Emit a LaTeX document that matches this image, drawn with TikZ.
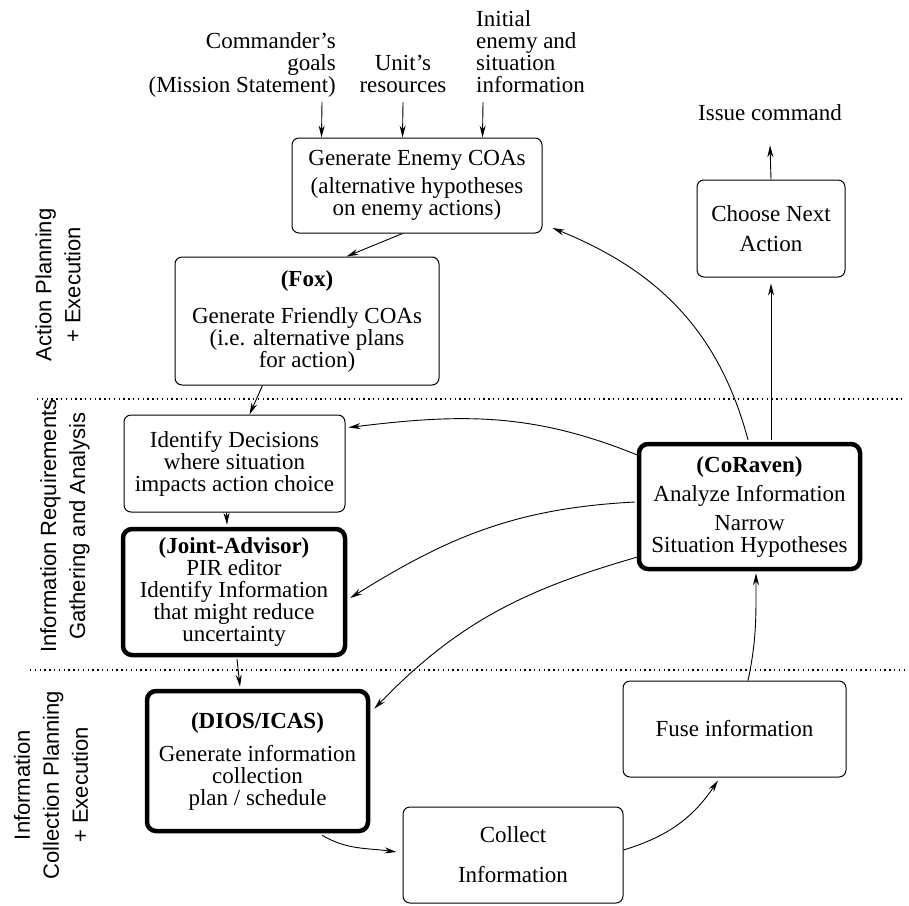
\documentclass[tikz,border=0pt]{standalone}
\usepackage{fontspec}
\setmainfont{Liberation Serif}
\newfontfamily\sidefont{Liberation Sans}
\usetikzlibrary{arrows.meta}
\begin{document}
\begin{tikzpicture}[x=1pt,y=-1pt,
  box/.style={draw, line width=1pt, rounded corners=7pt, align=center, inner sep=0pt, font=\fontsize{23}{22}\selectfont},
  tool/.style={box, line width=4.5pt, rounded corners=9pt},
  lbl/.style={inner sep=0pt, font=\fontsize{23}{22}\selectfont},
  side/.style={rotate=90, align=center, inner sep=0pt, font=\sidefont\fontsize{22}{29}\selectfont},
  arr/.style={-{Stealth[length=12pt,width=6pt]}, line width=0.9pt},
  sep/.style={line width=1.3pt, dash pattern=on 1.3pt off 3.5pt}]
\useasboundingbox (0,0) rectangle (909,905);
% inputs
\node[lbl, align=right, anchor=south east] (goals) at (336,98) {Commander's\\goals\\(Mission Statement)};
\node[lbl, align=center, anchor=south] (units) at (403,93) {Unit's\\resources};
\node[lbl, align=left, anchor=south west] (initial) at (476,93) {Initial\\enemy and\\situation\\information};
\node[lbl] (issue) at (770,113) {Issue command};
% boxes
\node[box, minimum width=250pt, minimum height=95pt] (enemy) at (417,185.5) {Generate Enemy COAs\\[6pt](alternative hypotheses\\on enemy actions)};
\node[box, minimum width=264pt, minimum height=128pt] (fox) at (307,321) {\textbf{(Fox)}\\[15pt]Generate Friendly COAs\\(i.e. alternative plans\\for action)};
\node[box, minimum width=148pt, minimum height=97pt] (choose) at (771,228.5) {Choose Next\\[8pt]Action};
\node[box, minimum width=221pt, minimum height=97pt] (decide) at (234.5,463.5) {Identify Decisions\\where situation\\impacts action choice};
\node[tool, minimum width=222pt, minimum height=126pt] (joint) at (234,592) {\textbf{(Joint-Advisor)}\\PIR editor\\Identify Information\\that might reduce\\uncertainty};
\node[tool, minimum width=221pt, minimum height=125pt] (coraven) at (749.5,506.5) {\textbf{(CoRaven)}\\[7pt]Analyze Information\\[7pt]Narrow\\Situation Hypotheses};
\node[tool, minimum width=221pt, minimum height=140pt] (dios) at (257.5,761) {\textbf{(DIOS/ICAS)}\\[11pt]Generate information\\collection\\plan / schedule};
\node[box, minimum width=220pt, minimum height=96pt] (collect) at (513,855) {Collect\\[18pt]Information};
\node[box, minimum width=223pt, minimum height=96pt] (fuse) at (734.5,729) {Fuse information};
% phases
\node[side] (actlbl) at (58,285) {Action Planning\\+ Execution};
\node[side] (reqlbl) at (65,526) {Information Requirements\\Gathering and Analysis};
\node[side] (collbl) at (51,785) {Information\\Collection Planning\\+ Execution};
\draw[sep] (37,399) -- (905,399);
\draw[sep] (30,670) -- (905,670);
% connectors
\draw[arr] ([shift={(-14,4)}]goals.south east) -- ([xshift=30pt]enemy.north west);
\draw[arr] ([shift={(0,9)}]units.south) -- ([xshift=111pt]enemy.north west);
\draw[arr] ([shift={(7,9)}]initial.south west) -- ([xshift=191pt]enemy.north west);
\draw[arr] ([xshift=111pt]enemy.south west) -- ([xshift=172pt]fox.north west);
\draw[arr] ([xshift=88pt]fox.south west) -- ([xshift=126pt]decide.north west);
\draw[arr] ([xshift=103pt]decide.south west) -- ([shift={(-7,-2)}]joint.north);
\draw[arr] ([shift={(3,2)}]joint.south) -- ([shift={(-17.5,-2)}]dios.north);
\draw[arr] ([shift={(64.5,2)}]dios.south) to[out=-30,in=172] ([shift={(-6,-3)}]collect.west);
\draw[arr] ([shift={(0,-5)}]collect.east) to[out=17,in=-124] ([shift={(-16.5,3)}]fuse.south);
\draw[arr] ([xshift=13.5pt]fuse.north) to[out=78,in=-90] ([shift={(6.5,2)}]coraven.south);
\draw[arr] ([shift={(21.5,-2)}]coraven.north) -- ([shift={(0,6)}]choose.south);
\draw[arr] (choose.north) -- ([shift={(0,24)}]issue.south);
\draw[arr] ([shift={(-1.5,-2)}]coraven.north) to[out=105,in=-22] ([shift={(10,42.5)}]enemy.east);
\draw[arr] ([shift={(0,13)}]coraven.north west) to[out=158,in=7] ([shift={(3,13)}]decide.north east);
\draw[arr] ([shift={(-2,-4.5)}]coraven.west) to[out=183,in=32] ([shift={(3,6)}]joint.east);
\draw[arr] ([shift={(0,-14)}]coraven.south west) to[out=196,in=46] ([shift={(4,20)}]dios.north east);
\end{tikzpicture}
\end{document}
